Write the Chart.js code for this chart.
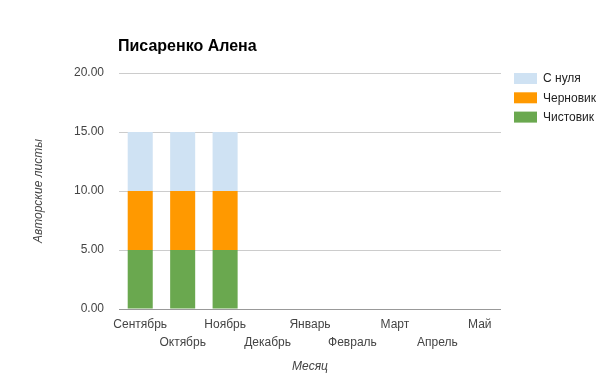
<!DOCTYPE html>
<html>
<head>
<meta charset="utf-8">
<script src="https://cdn.jsdelivr.net/npm/chart.js@4.4.1/dist/chart.umd.min.js"></script>
<style>
  html, body { margin: 0; padding: 0; background: #fff; }
  #wrap { width: 605px; height: 378px; }
</style>
</head>
<body>
<div id="wrap"><canvas id="bookChart" width="605" height="378"></canvas></div>
<script>
const chartTitle = "Писаренко Алена";
const months = ["Сентябрь", "Октябрь", "Ноябрь", "Декабрь", "Январь", "Февраль", "Март", "Апрель", "Май"];
const cleanData = [5, 5, 5, 0, 0, 0, 0, 0, 0];   // Чистовик
const draftData = [5, 5, 5, 0, 0, 0, 0, 0, 0];   // Черновик
const scratchData = [5, 5, 5, 0, 0, 0, 0, 0, 0]; // С нуля
const yTicks = [0, 5, 10, 15, 20];

const FONT = "Arial, 'Liberation Sans', sans-serif";

// title + legend at the right, google-charts style
const decorPlugin = {
    id: "decor",
    afterDraw(chart) {
        const ctx = chart.ctx;
        const area = chart.chartArea;
        ctx.save();
        ctx.fillStyle = "#000";
        ctx.font = "bold 16px " + FONT;
        ctx.textAlign = "left";
        ctx.textBaseline = "middle";
        ctx.fillText(chartTitle, area.left - 1, 47);

        const sets = chart.data.datasets.slice().reverse();
        let y = 73;
        ctx.font = "12px " + FONT;
        sets.forEach(function (ds) {
            ctx.fillStyle = ds.backgroundColor;
            ctx.fillRect(area.right + 13, y, 23, 11);
            ctx.fillStyle = "#222";
            ctx.fillText(ds.label, area.right + 42, y + 6);
            y += 19.3;
        });
        ctx.restore();
    },
};

const canvas = document.getElementById("bookChart");
new Chart(canvas.getContext("2d"), {
    type: "bar",
    data: {
        labels: months,
        datasets: [
            { label: "Чистовик", data: cleanData, backgroundColor: "#6aa84f", borderWidth: 0 },
            { label: "Черновик", data: draftData, backgroundColor: "#ff9900", borderWidth: 0 },
            { label: "С нуля", data: scratchData, backgroundColor: "#cfe2f3", borderWidth: 0 },
        ],
    },
    options: {
        responsive: false,
        animation: false,
        barPercentage: 0.59,
        categoryPercentage: 1,
        layout: { padding: { top: 73, right: 104, bottom: 0, left: 0 } },
        plugins: {
            legend: { display: false },
            title: { display: false },
            tooltip: { enabled: false },
        },
        scales: {
            x: {
                stacked: true,
                grid: { display: false, drawTicks: false },
                border: { display: false },
                afterFit: function (scale) { scale.height = 69; },
                ticks: {
                    autoSkip: false,
                    maxRotation: 0,
                    padding: 7,
                    color: "#444",
                    font: { family: FONT, size: 12, lineHeight: 1.5 },
                    callback: function (value, index) {
                        const name = months[index];
                        return index % 2 === 1 ? ["", name] : name;
                    },
                },
                title: {
                    display: true,
                    text: "Месяц",
                    color: "#444",
                    padding: { top: 0, bottom: 4 },
                    font: { family: FONT, size: 12, style: "italic" },
                },
            },
            y: {
                stacked: true,
                min: yTicks[0],
                max: yTicks[yTicks.length - 1],
                afterFit: function (scale) { scale.width = 119; },
                afterBuildTicks: function (scale) {
                    scale.ticks = yTicks.map(function (v) { return { value: v }; });
                },
                grid: {
                    drawTicks: false,
                    color: function (c) { return c.tick && c.tick.value === 0 ? "#999" : "#ccc"; },
                },
                border: { display: false },
                ticks: {
                    padding: 15,
                    color: "#444",
                    font: { family: FONT, size: 12 },
                    callback: function (value) { return Number(value).toFixed(2); },
                },
                title: {
                    display: true,
                    text: "Авторские листы",
                    color: "#444",
                    padding: { top: 31, bottom: 0 },
                    font: { family: FONT, size: 12, style: "italic" },
                },
            },
        },
    },
    plugins: [decorPlugin],
});
</script>
</body>
</html>
